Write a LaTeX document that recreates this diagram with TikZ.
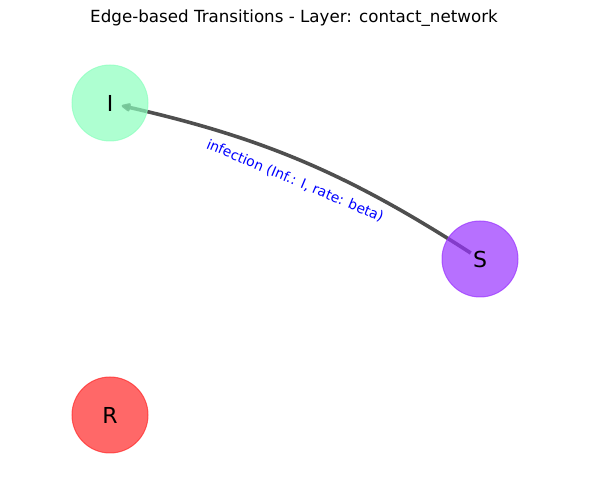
\documentclass[tikz,border=0pt]{standalone}
\usepackage{fontspec}
\setmainfont{DejaVu Sans}
\usetikzlibrary{positioning,arrows.meta,backgrounds}

\definecolor{igreen}{RGB}{140,255,190}
\definecolor{spurple}{RGB}{153,51,255}
\definecolor{rred}{RGB}{255,40,40}
\definecolor{edgegray}{RGB}{60,60,60}

\begin{document}
\begin{tikzpicture}[
  x=1pt, y=1pt,
  node distance = 312pt,
  snode/.style={circle, minimum size=76pt, inner sep=0pt, line width=1pt,
    fill opacity=0.7, draw opacity=0.7, text opacity=1,
    font=\fontsize{22}{22}\selectfont},
  arw/.style={-{Triangle[length=11pt,width=9pt,round]}, line width=3.6pt, draw=edgegray,
    opacity=0.9, shorten <=11pt, shorten >=12pt},
  elabel/.style={text=blue, font=\fontsize{13.9}{13.9}\selectfont}
  ]
\useasboundingbox (0,0) rectangle (590,490);

\node [font=\fontsize{16.7}{16.7}\selectfont] (title) at (294,472)
  {Edge-based Transitions - Layer: contact\_network};

\node [snode, fill=igreen, draw=igreen] (I) at (110,387) {I};
\node [snode, fill=rred, draw=rred, below=of I.center, anchor=center] (R) {R};
\node [snode, fill=spurple, draw=spurple] (S) at (480,231) {S};

\begin{scope}[on background layer]
\draw [arw] (S.center) to [bend right=10] (I.center);
\end{scope}
\path (I) -- node [elabel, sloped] {infection (Inf.: I, rate: beta)} (S);

\end{tikzpicture}
\end{document}
